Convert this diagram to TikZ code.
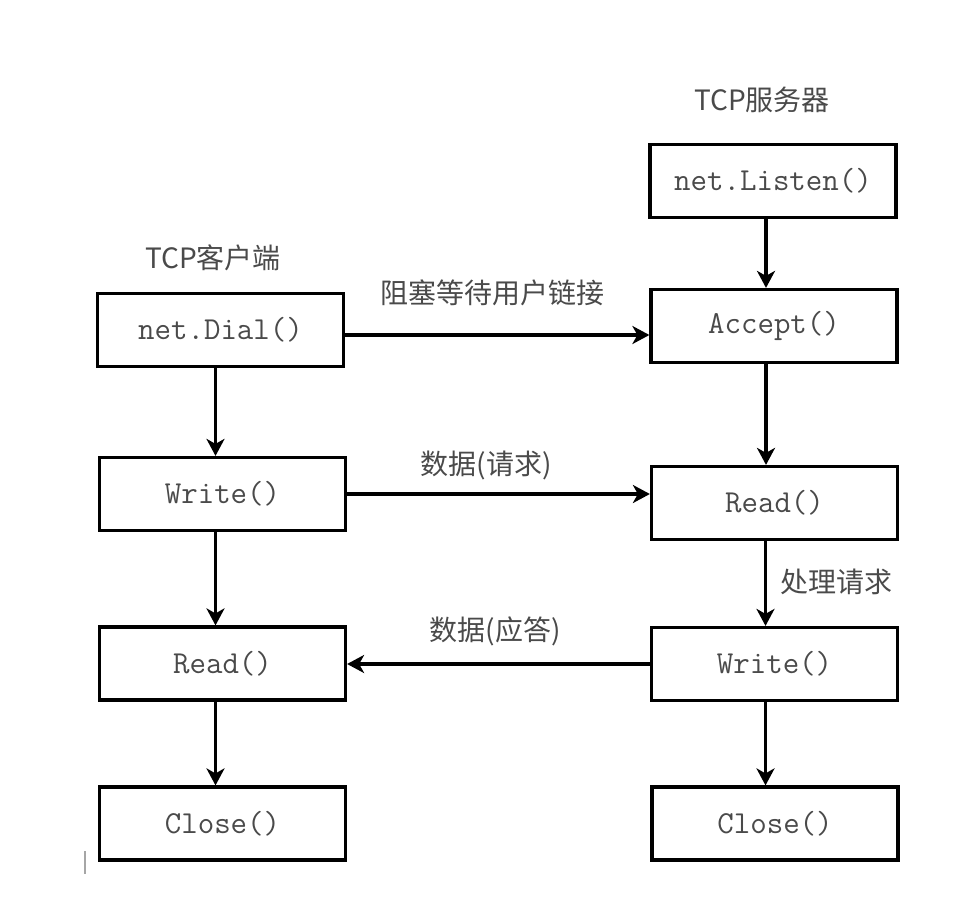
\documentclass[tikz,border=0pt]{standalone}
\usepackage{fontspec}
\newfontfamily\cjk{Noto Sans CJK SC}
\usetikzlibrary{arrows.meta}
\definecolor{txtgray}{HTML}{4A4A4A}
\tikzset{
  fbox/.style={draw=black, line width=3.2pt, minimum width=246pt, minimum height=73pt, inner sep=0pt,
    font=\fontsize{32}{34}\selectfont\ttfamily, text=txtgray},
  flow/.style={line width=3.2pt, -{Stealth[length=17pt,width=18pt,inset=5pt]}},
  lbl/.style={font=\fontsize{28}{30}\selectfont\cjk, text=txtgray, inner sep=0pt}
}
\begin{document}
\begin{tikzpicture}[x=1pt,y=-1pt]
\useasboundingbox (0,0) rectangle (968,902);
% client column
\node[fbox] (dial) at (220.5,330) {net.Dial()};
\node[fbox] (cwrite) at (222.5,494) {Write()};
\node[fbox] (cread) at (222.5,663.5) {Read()};
\node[fbox] (cclose) at (222.5,823.5) {Close()};
% server column
\node[fbox] (listen) at (773,181) {net.Listen()};
\node[fbox] (accept) at (774,326) {Accept()};
\node[fbox] (sread) at (774.5,503) {Read()};
\node[fbox] (swrite) at (774.5,664) {Write()};
\node[fbox] (sclose) at (775,823.5) {Close()};
% titles
\node[lbl] (tserver) at (762,100) {TCP服务器};
\node[lbl] (tclient) at (213,258) {TCP客户端};
% vertical arrows
\draw[flow] ([xshift=-5pt]dial.south) -- ([xshift=-5pt]dial.south |- cwrite.north);
\draw[flow] ([xshift=-7pt]cwrite.south) -- ([xshift=-7pt]cwrite.south |- cread.north);
\draw[flow] ([xshift=-7pt]cread.south) -- ([xshift=-7pt]cread.south |- cclose.north);
\draw[flow] ([xshift=-7pt]listen.south) -- ([xshift=-7pt]listen.south |- accept.north);
\draw[flow] ([xshift=-8pt]accept.south) -- ([xshift=-8pt]accept.south |- sread.north);
\draw[flow] ([xshift=-9pt]sread.south) -- ([xshift=-9pt]sread.south |- swrite.north);
\draw[flow] ([xshift=-9pt]swrite.south) -- ([xshift=-9pt]swrite.south |- sclose.north);
% horizontal arrows
\draw[flow] ([yshift=-5pt]dial.east) -- ([yshift=-5pt]dial.east -| accept.west);
\draw[flow] (cwrite.east) -- (cwrite.east -| sread.west);
\draw[flow] (swrite.west) -- (swrite.west -| cread.east);
% labels
\node[lbl] (l1) at (492,293) {阻塞等待用户链接};
\node[lbl] (l2) at (486,465) {数据(请求)};
\node[lbl] (l3) at (836,582) {处理请求};
\node[lbl] (l4) at (495,631) {数据(应答)};
% scan mark
\draw[line width=2pt, gray!70] (85,851) -- (85,874);
\end{tikzpicture}
\end{document}
